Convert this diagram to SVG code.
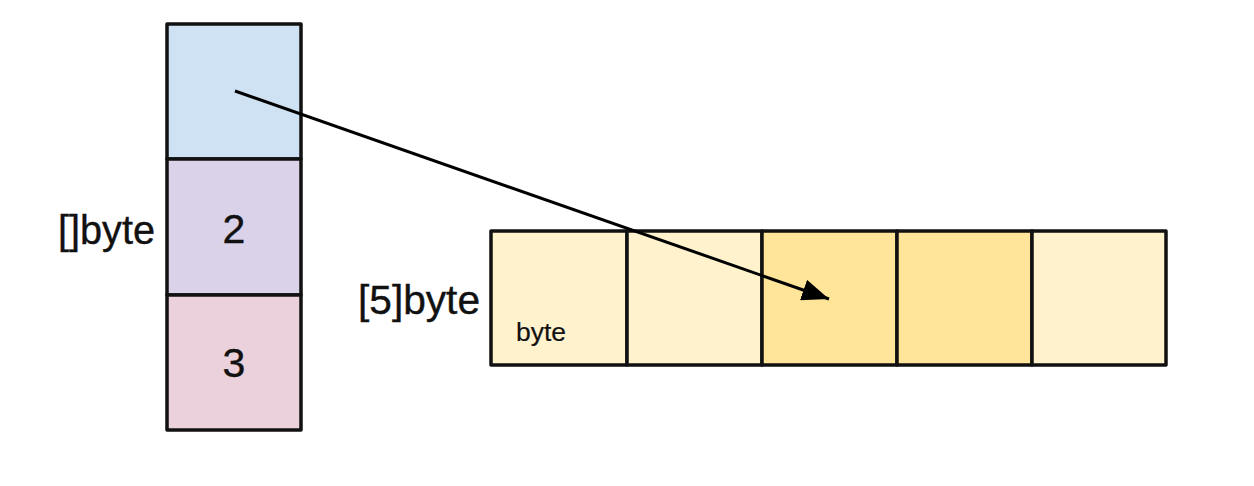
<svg xmlns="http://www.w3.org/2000/svg" width="1254" height="486" viewBox="0 0 1254 486">
<style>
.cell{stroke:#111;stroke-width:3.5;stroke-linejoin:round}
.lbl{font-family:"Liberation Sans",Arial,sans-serif;fill:#111;stroke:#111;stroke-width:0.4}
.big{font-size:41px}
.num{font-size:41px;text-anchor:middle}
.small{font-size:26px;stroke-width:0.2}
.conn{stroke:#000;stroke-width:3;fill:none}
</style>
<defs>
<marker id="ah" viewBox="0 0 10 8" refX="10" refY="4" markerWidth="9" markerHeight="7.2" markerUnits="strokeWidth" orient="auto">
<path d="M0,0 L10,4 L0,8 Z" fill="#000"/>
</marker>
</defs>
<rect width="1254" height="486" fill="#fff"/>
<g id="slice">
<rect class="cell" x="167" y="24" width="134" height="135" fill="#cfe2f3"/>
<rect class="cell" x="167" y="159" width="134" height="136" fill="#d9d2e9"/>
<rect class="cell" x="167" y="295" width="134" height="135" fill="#ead1dc"/>
<text class="lbl num" x="234" y="243">2</text>
<text class="lbl num" x="234" y="377">3</text>
<text class="lbl big" x="155" y="244" text-anchor="end" textLength="97" lengthAdjust="spacingAndGlyphs">[]byte</text>
</g>
<g id="array">
<rect class="cell" x="491" y="231" width="136" height="134" fill="#fff2cc"/>
<rect class="cell" x="627" y="231" width="135" height="134" fill="#fff2cc"/>
<rect class="cell" x="762" y="231" width="135" height="134" fill="#ffe599"/>
<rect class="cell" x="897" y="231" width="135" height="134" fill="#ffe599"/>
<rect class="cell" x="1032" y="231" width="134" height="134" fill="#fff2cc"/>
<text class="lbl big" x="480" y="314" text-anchor="end" textLength="122" lengthAdjust="spacingAndGlyphs">[5]byte</text>
<text class="lbl small" x="516" y="341" textLength="50" lengthAdjust="spacingAndGlyphs">byte</text>
</g>
<g id="connectors">
<line class="conn" x1="235" y1="91" x2="829" y2="299" marker-end="url(#ah)"/>
</g>
</svg>
